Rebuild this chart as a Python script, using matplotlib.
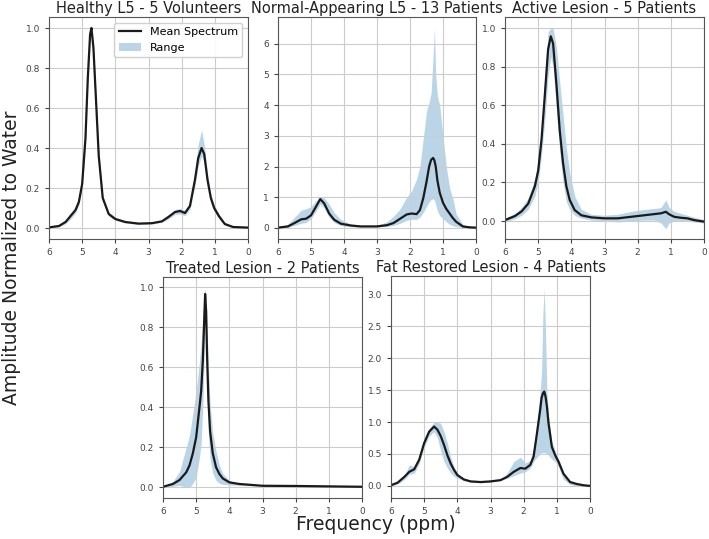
import matplotlib
matplotlib.use('Agg')
import matplotlib.pyplot as plt

# ppm grids and spectra
x1 = [6.0, 5.7, 5.5, 5.35, 5.2, 5.1, 5.0, 4.9, 4.83, 4.76, 4.72, 4.66, 4.58, 4.5, 4.38, 4.2, 4.0, 3.7, 3.3,
      2.9, 2.6, 2.4, 2.2, 2.05, 1.9, 1.75, 1.6, 1.5, 1.4, 1.32, 1.22, 1.12, 1.02, 0.88, 0.7, 0.45, 0.0]
mean1 = [0.003, 0.01, 0.03, 0.06, 0.09, 0.13, 0.22, 0.45, 0.75, 0.97, 1.0, 0.90, 0.63, 0.36, 0.15, 0.07, 0.045,
         0.03, 0.022, 0.024, 0.033, 0.055, 0.08, 0.085, 0.075, 0.11, 0.24, 0.35, 0.40, 0.37, 0.24, 0.15, 0.10,
         0.06, 0.02, 0.005, 0.002]
lo1 = [0.0, 0.005, 0.022, 0.045, 0.075, 0.115, 0.2, 0.42, 0.72, 0.95, 0.98, 0.87, 0.6, 0.33, 0.135, 0.06, 0.038,
       0.025, 0.018, 0.02, 0.028, 0.045, 0.068, 0.07, 0.062, 0.095, 0.21, 0.31, 0.36, 0.33, 0.21, 0.125, 0.085,
       0.048, 0.013, 0.002, 0.0]
hi1 = [0.006, 0.016, 0.04, 0.075, 0.105, 0.15, 0.24, 0.48, 0.78, 0.99, 1.0, 0.93, 0.66, 0.39, 0.165, 0.08, 0.052,
       0.035, 0.026, 0.029, 0.038, 0.065, 0.092, 0.098, 0.088, 0.13, 0.28, 0.42, 0.49, 0.42, 0.27, 0.17, 0.115,
       0.072, 0.027, 0.008, 0.004]

x2 = [6.0, 5.7, 5.5, 5.3, 5.15, 5.0, 4.85, 4.72, 4.6, 4.45, 4.3, 4.1, 3.8, 3.5, 3.0, 2.7, 2.5, 2.3, 2.1, 1.95,
      1.8, 1.7, 1.6, 1.5, 1.42, 1.36, 1.3, 1.26, 1.22, 1.17, 1.1, 1.0, 0.9, 0.8, 0.7, 0.6, 0.4, 0.2, 0.0]
mean2 = [0.01, 0.05, 0.16, 0.28, 0.30, 0.41, 0.69, 0.94, 0.80, 0.47, 0.27, 0.14, 0.08, 0.05, 0.05, 0.09, 0.16,
         0.30, 0.44, 0.47, 0.45, 0.58, 0.96, 1.5, 2.0, 2.22, 2.28, 2.2, 2.0, 1.55, 1.15, 0.82, 0.62, 0.47, 0.32,
         0.2, 0.05, 0.02, 0.01]
lo2 = [0.0, 0.02, 0.08, 0.15, 0.18, 0.3, 0.55, 0.78, 0.65, 0.35, 0.18, 0.08, 0.04, 0.03, 0.03, 0.05, 0.08, 0.15,
       0.25, 0.28, 0.28, 0.35, 0.5, 0.7, 0.85, 0.92, 0.95, 0.9, 0.75, 0.55, 0.4, 0.3, 0.2, 0.12, 0.07, 0.04,
       0.01, 0.0, 0.0]
hi2 = [0.02, 0.12, 0.35, 0.58, 0.62, 0.7, 0.88, 1.02, 0.98, 0.78, 0.5, 0.28, 0.13, 0.08, 0.08, 0.2, 0.38, 0.62,
       1.0, 1.2, 1.6, 2.0, 2.9, 3.8, 4.1, 4.4, 5.6, 6.5, 5.0, 4.3, 4.0, 3.0, 2.0, 1.3, 0.95, 0.45, 0.12, 0.04,
       0.02]

x3 = [6.0, 5.7, 5.5, 5.3, 5.1, 5.0, 4.9, 4.8, 4.7, 4.62, 4.55, 4.45, 4.35, 4.25, 4.15, 4.05, 3.9, 3.7, 3.4,
      3.0, 2.6, 2.2, 1.8, 1.5, 1.3, 1.15, 1.05, 0.9, 0.7, 0.5, 0.3, 0.0]
mean3 = [0.005, 0.026, 0.05, 0.09, 0.18, 0.26, 0.42, 0.65, 0.89, 0.957, 0.92, 0.71, 0.47, 0.30, 0.18, 0.11,
         0.057, 0.03, 0.019, 0.014, 0.014, 0.022, 0.03, 0.036, 0.04, 0.048, 0.035, 0.022, 0.017, 0.014, 0.005,
         -0.003]
lo3 = [-0.005, 0.012, 0.03, 0.06, 0.13, 0.2, 0.34, 0.52, 0.75, 0.85, 0.8, 0.58, 0.36, 0.2, 0.1, 0.06, 0.03,
       0.015, 0.005, 0.0, -0.005, 0.0, 0.005, 0.005, -0.01, -0.04, -0.01, 0.0, 0.0, 0.0, -0.005, -0.01]
hi3 = [0.015, 0.04, 0.07, 0.12, 0.22, 0.31, 0.48, 0.75, 0.98, 1.0, 1.0, 0.9, 0.72, 0.55, 0.38, 0.25, 0.13,
       0.06, 0.035, 0.03, 0.035, 0.05, 0.06, 0.065, 0.07, 0.11, 0.07, 0.05, 0.04, 0.03, 0.02, 0.008]

x4 = [6.0, 5.7, 5.5, 5.3, 5.2, 5.1, 5.0, 4.9, 4.85, 4.8, 4.76, 4.73, 4.7, 4.67, 4.63, 4.58, 4.5, 4.4, 4.3,
      4.2, 4.0, 3.7, 3.0, 2.0, 1.0, 0.0]
mean4 = [0.003, 0.017, 0.037, 0.075, 0.11, 0.17, 0.25, 0.40, 0.48, 0.63, 0.82, 0.965, 0.88, 0.65, 0.43, 0.28,
         0.17, 0.10, 0.067, 0.045, 0.025, 0.017, 0.008, 0.007, 0.005, 0.003]
lo4 = [0.0, 0.005, 0.01, 0.0, 0.0, 0.02, 0.05, 0.15, 0.22, 0.4, 0.65, 0.94, 0.8, 0.5, 0.26, 0.14, 0.07, 0.035,
       0.02, 0.015, 0.012, 0.01, 0.006, 0.005, 0.003, 0.001]
hi4 = [0.005, 0.03, 0.08, 0.2, 0.26, 0.37, 0.48, 0.63, 0.72, 0.84, 0.97, 0.99, 0.95, 0.8, 0.6, 0.42, 0.27,
       0.18, 0.11, 0.07, 0.035, 0.02, 0.01, 0.009, 0.007, 0.005]

x5 = [6.0, 5.8, 5.6, 5.45, 5.3, 5.15, 5.0, 4.85, 4.7, 4.6, 4.5, 4.4, 4.3, 4.2, 4.1, 4.0, 3.8, 3.6, 3.3, 3.0,
      2.7, 2.5, 2.3, 2.1, 1.95, 1.8, 1.7, 1.6, 1.5, 1.46, 1.42, 1.38, 1.34, 1.3, 1.25, 1.15, 1.05, 0.95, 0.8,
      0.6, 0.4, 0.2, 0.0]
mean5 = [0.01, 0.05, 0.14, 0.22, 0.26, 0.41, 0.67, 0.85, 0.93, 0.88, 0.78, 0.64, 0.48, 0.35, 0.25, 0.17, 0.10,
         0.07, 0.06, 0.07, 0.09, 0.14, 0.22, 0.28, 0.27, 0.33, 0.46, 0.82, 1.2, 1.38, 1.45, 1.48, 1.4, 1.25,
         0.98, 0.61, 0.48, 0.38, 0.19, 0.06, 0.03, 0.01, 0.0]
lo5 = [0.0, 0.03, 0.1, 0.18, 0.2, 0.35, 0.6, 0.78, 0.85, 0.75, 0.55, 0.38, 0.28, 0.2, 0.15, 0.12, 0.08, 0.06,
       0.05, 0.06, 0.08, 0.12, 0.16, 0.2, 0.22, 0.28, 0.38, 0.45, 0.5, 0.52, 0.52, 0.52, 0.52, 0.5, 0.48, 0.42,
       0.38, 0.3, 0.1, 0.02, 0.0, 0.0, 0.0]
hi5 = [0.01, 0.05, 0.15, 0.33, 0.3, 0.45, 0.7, 0.9, 1.0, 1.0, 0.98, 0.85, 0.67, 0.45, 0.3, 0.2, 0.11, 0.08,
       0.07, 0.08, 0.1, 0.2, 0.38, 0.45, 0.36, 0.4, 0.6, 1.0, 1.5, 1.8, 2.7, 3.1, 2.4, 1.5, 1.1, 0.7, 0.55,
       0.42, 0.22, 0.07, 0.03, 0.01, 0.0]

titles = ['Healthy L5 - 5 Volunteers', 'Normal-Appearing L5 - 13 Patients', 'Active Lesion - 5 Patients',
          'Treated Lesion - 2 Patients', 'Fat Restored Lesion - 4 Patients']
xs = [x1, x2, x3, x4, x5]
means = [mean1, mean2, mean3, mean4, mean5]
los = [lo1, lo2, lo3, lo4, lo5]
his = [hi1, hi2, hi3, hi4, hi5]
ylims = [(-0.055, 1.055), (-0.36, 6.87), (-0.093, 1.057), (-0.053, 1.05), (-0.19, 3.29)]
yticks = [[0, 0.2, 0.4, 0.6, 0.8, 1.0], [0, 1, 2, 3, 4, 5, 6], [0, 0.2, 0.4, 0.6, 0.8, 1.0],
          [0, 0.2, 0.4, 0.6, 0.8, 1.0], [0, 0.5, 1.0, 1.5, 2.0, 2.5, 3.0]]
yfmt = ['%.1f', '%d', '%.1f', '%.1f', '%.1f']

W, H = 709, 539
# axes boxes in pixels: left, right, top, bottom
boxes = [(49, 248, 17, 239), (278, 476, 17, 239), (505, 704, 17, 239),
         (163, 362, 277, 498), (391, 590, 276, 498)]

fig = plt.figure(figsize=(W / 100, H / 100), dpi=100)

for i in range(5):
    l, r, t, b = boxes[i]
    ax = fig.add_axes([l / W, 1 - b / H, (r - l) / W, (b - t) / H])
    ax.fill_between(xs[i], los[i], his[i], color='tab:blue', alpha=0.3, linewidth=0, label='Range')
    ax.plot(xs[i], means[i], color='#1a1a1a', linewidth=1.6, label='Mean Spectrum')
    ax.set_xlim(6, 0)
    ax.set_ylim(*ylims[i])
    ax.set_xticks([6, 5, 4, 3, 2, 1, 0])
    ax.set_yticks(yticks[i])
    ax.set_yticklabels([yfmt[i] % v for v in yticks[i]])
    ax.tick_params(labelsize=6.5, colors='#444444', length=3)
    ax.grid(True, color='#cccccc', linewidth=0.8)
    for s in ax.spines.values():
        s.set_color('#555555')
    ax.set_title(titles[i], fontsize=10.5, color='#222222', pad=3)
    if i == 0:
        h, lab = ax.get_legend_handles_labels()
        ax.legend(h[::-1], lab[::-1], loc='upper right', fontsize=8, framealpha=0.9)

fig.text(12 / W, 1 - 258 / H, 'Amplitude Normalized to Water', rotation=90, fontsize=13.5,
         ha='center', va='center', color='#222222')
fig.text(376 / W, 1 - 524 / H, 'Frequency (ppm)', fontsize=13.5, ha='center', va='center', color='#222222')

fig.savefig('out.png', dpi=100)
